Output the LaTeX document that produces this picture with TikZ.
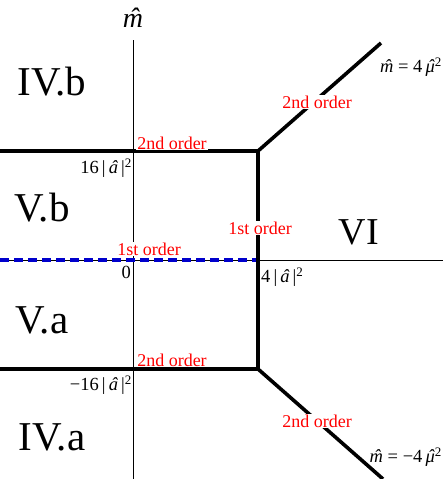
\documentclass[tikz,border=0pt]{standalone}
\usepackage{fontspec}
\setmainfont{Liberation Serif}
\newcommand\hatl[1]{{\itshape\ooalign{#1\cr\hidewidth\kern0.08em ˆ\hidewidth\cr}}}
\newcommand\absa{|\,\hatl{a}\,|\textsuperscript{2}}
\begin{document}
\begin{tikzpicture}[x=1pt,y=-1pt,
  axis/.style={line width=0.8pt,black},
  phase/.style={line width=3.6pt,black},
  dashphase/.style={line width=3.2pt,blue!80!black,dash pattern=on 9pt off 5pt},
  order/.style={text=red,font=\fontsize{18}{20}\selectfont,inner sep=1pt},
  orderbg/.style={order,fill=white},
  region/.style={font=\fontsize{41}{44}\selectfont,inner sep=0pt},
  tick/.style={font=\fontsize{18.5}{20}\selectfont,inner sep=1pt},
  eqn/.style={font=\fontsize{18.5}{20}\selectfont,inner sep=1pt}]
\useasboundingbox (0,0) rectangle (443,479);
% axes
\coordinate (vtop) at (133,40);
\coordinate (vbot) at (133,479);
\coordinate (hl) at (0,260);
\coordinate (hr) at (443,260);
\draw[axis] (vtop) -- (vbot);
\draw[axis] (hl) -- (hr);
\node[font=\fontsize{28}{30}\selectfont,inner sep=0pt] (mlab) at (133,21) {\hatl{m}};
% phase boundaries
\coordinate (ul) at (0,151);
\coordinate (uc) at (258,151);
\coordinate (ll) at (0,369);
\coordinate (lc) at (258,369);
\coordinate (ur) at (381,43);
\coordinate (lr) at (383,479);
\coordinate (dl) at (0,260);
\coordinate (dc) at (258,260);
\draw[dashphase] (dl) -- (dc);
\draw[phase] (ul) -- (uc) -- (lc) -- (ll);
\draw[phase] (uc) -- (ur);
\draw[phase] (lc) -- (lr);
% order labels
\node[orderbg] (o1) at (172,143) {2nd order};
\node[orderbg] (o2) at (172,360) {2nd order};
\node[orderbg] (o3) at (260,228) {1st order};
\node[orderbg] (o4) at (149,249) {1st order};
\node[orderbg] (o5) at (317,102) {2nd order};
\node[orderbg] (o6) at (317,421) {2nd order};
% region labels
\node[region] (r1) at (52,82) {IV.b};
\node[region] (r2) at (42,208) {V.b};
\node[region] (r3) at (42,320) {V.a};
\node[region] (r4) at (52,437) {IV.a};
\node[region,font=\fontsize{38}{40}\selectfont] (r5) at (359,232) {VI};
% tick labels
\node[tick,anchor=east] (t1) at (133,168) {16\,\absa};
\node[tick,anchor=east] (t0) at (132,272) {0};
\node[tick,anchor=west] (t4) at (260,277) {4\,\absa};
\node[tick,anchor=east] (t2) at (133,385) {−16\,\absa};
\node[eqn,anchor=east] (e1) at (443,65) {\hatl{m} = 4\,\hatl{μ}\textsuperscript{2}};
\node[eqn,anchor=east] (e2) at (443,455) {\hatl{m} = −4\,\hatl{μ}\textsuperscript{2}};
\end{tikzpicture}
\end{document}
